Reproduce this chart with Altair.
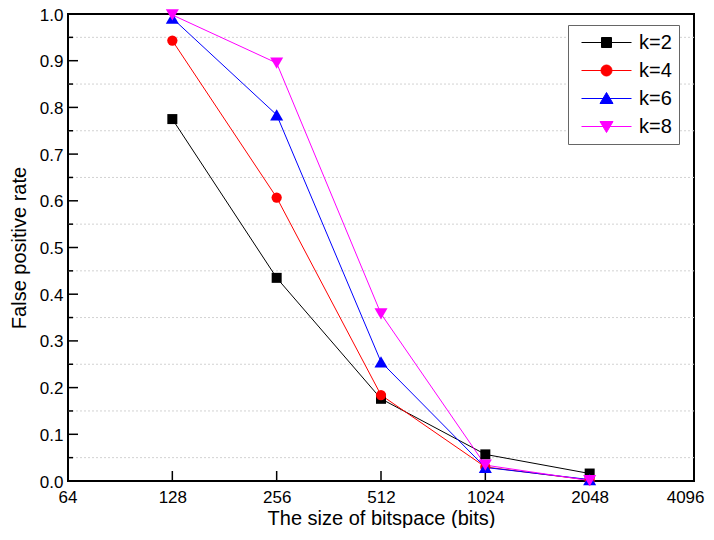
import altair as alt
import pandas as pd

# ---- data ----
sizes = [128, 256, 512, 1024, 2048]
k2 = [0.775, 0.435, 0.176, 0.057, 0.016]
k4 = [0.943, 0.607, 0.184, 0.030, 0.002]
k6 = [0.991, 0.784, 0.255, 0.029, 0.003]
k8 = [0.998, 0.895, 0.358, 0.034, 0.001]
series_names = ["k=2", "k=4", "k=6", "k=8"]
series_colors = ["#000000", "#ff0000", "#0000ff", "#ff00ff"]
series_shapes = ["square", "circle", "triangle-up", "triangle-down"]
series_sizes = [100, 105, 170, 170]
legend_paths = [
    "M-2.5,0H2.5M-0.5,-0.5H0.5V0.5H-0.5Z",
    "M-2.5,0H2.5M-0.55,0A0.55,0.55 0 1,0 0.55,0A0.55,0.55 0 1,0 -0.55,0Z",
    "M-2.5,0H2.5M0,-0.6L0.65,0.5H-0.65Z",
    "M-2.5,0H2.5M0,0.6L0.65,-0.5H-0.65Z",
]
x_ticks = [64, 128, 256, 512, 1024, 2048, 4096]
y_major = [0.0, 0.1, 0.2, 0.3, 0.4, 0.5, 0.6, 0.7, 0.8, 0.9, 1.0]
y_minor = [0.05, 0.15, 0.25, 0.35, 0.45, 0.55, 0.65, 0.75, 0.85, 0.95]

W, H = 626, 467
FONT = "Liberation Sans"

rows = []
for name, vals in zip(series_names, [k2, k4, k6, k8]):
    for s, v in zip(sizes, vals):
        rows.append({"size": s, "rate": v, "k": name})
df = pd.DataFrame(rows)

xscale = alt.Scale(type="log", base=2, domain=[64, 4096], nice=False)
yscale = alt.Scale(domain=[0, 1], nice=False, zero=False)

xaxis = alt.Axis(values=x_ticks, format="d", tickSize=0, labelPadding=8, grid=False,
                 domain=False, labelFontSize=17, labelFont=FONT, labelColor="black",
                 labelOverlap=False, labelFlush=True, labelFlushOffset=10,
                 title="The size of bitspace (bits)", titleFontSize=20, titleFont=FONT,
                 titleFontWeight="normal", titleColor="black",
                 titleY=43, titleBaseline="alphabetic")
yaxis = alt.Axis(values=y_major, format=".1f", tickSize=0, labelPadding=5, grid=False,
                 domain=False, labelFontSize=17, labelFont=FONT, labelColor="black",
                 labelOverlap=False, labelFlush=False, labelOffset=1,
                 title="False positive rate", titleFontSize=20, titleFont=FONT,
                 titleFontWeight="normal", titleColor="black", titlePadding=10)

X = alt.X("size:Q", scale=xscale, axis=xaxis)
Y = alt.Y("rate:Q", scale=yscale, axis=yaxis)

grid = alt.Chart(pd.DataFrame({"rate": y_minor})).mark_rule(
    color="#d2d2d2", strokeWidth=1, strokeDash=[2, 2]).encode(y=Y)

yt_major = alt.Chart(pd.DataFrame({"rate": y_major})).mark_rule(
    color="black", strokeWidth=1.5).encode(y=Y, x=alt.value(0), x2=alt.value(10))
yt_minor = alt.Chart(pd.DataFrame({"rate": y_minor})).mark_rule(
    color="black", strokeWidth=1.5).encode(y=Y, x=alt.value(0), x2=alt.value(5))
xt_major = alt.Chart(pd.DataFrame({"size": x_ticks})).mark_rule(
    color="black", strokeWidth=1.5).encode(x=X, y=alt.value(H), y2=alt.value(H - 10))

color_enc = alt.Color("k:N", scale=alt.Scale(domain=series_names, range=series_colors), legend=None)

lines = alt.Chart(df).mark_line(strokeWidth=1).encode(x=X, y=Y, color=color_enc)

point_layers = []
for name, shp, sz in zip(series_names, series_shapes, series_sizes):
    point_layers.append(
        alt.Chart(df).transform_filter(alt.datum.k == name)
        .mark_point(filled=True, opacity=1, shape=shp, size=sz)
        .encode(x=X, y=Y, color=color_enc)
    )

leg = alt.Legend(orient="none", legendX=500, legendY=11, padding=7, strokeColor="#666666",
                 fillColor="white", symbolOffset=21, labelOffset=22, rowPadding=7,
                 labelFontSize=20, labelFont=FONT, labelColor="black", symbolSize=400,
                 symbolStrokeWidth=1, symbolOpacity=1, title=None)
legend_layer = alt.Chart(df).transform_filter("datum.rate > 2").mark_point(
    opacity=1, strokeWidth=1, size=400).encode(
    x=X, y=Y,
    fill=alt.Fill("k:N", scale=alt.Scale(domain=series_names, range=series_colors), legend=leg),
    stroke=alt.Stroke("k:N", scale=alt.Scale(domain=series_names, range=series_colors), legend=leg),
    shape=alt.Shape("k:N", scale=alt.Scale(domain=series_names, range=legend_paths), legend=leg),
)

chart = alt.layer(grid, yt_major, yt_minor, xt_major, lines, *point_layers, legend_layer).resolve_scale(
    fill="independent", stroke="independent", shape="independent"
).properties(
    width=W, height=H, autosize="none", background="white",
    padding={"left": 60, "top": 6, "right": 12, "bottom": 47},
).configure_view(stroke="black", strokeWidth=2)

chart.save("out.html", embed_options={"renderer": "svg", "actions": False})
